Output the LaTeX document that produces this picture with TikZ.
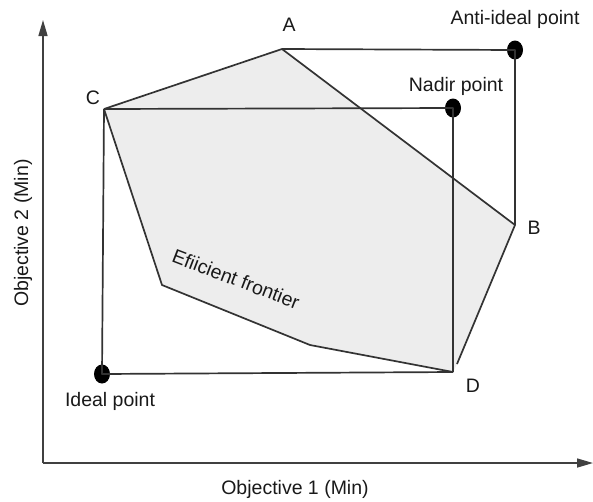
\documentclass[tikz,border=0pt]{standalone}
\usepackage{fontspec}
\setmainfont{Liberation Sans}
\usetikzlibrary{arrows.meta,shapes.geometric}
\begin{document}
\begin{tikzpicture}[x=1pt,y=-1pt,
  edge/.style={draw=black!80,line width=1.7pt,line join=round},
  axisline/.style={draw=black!75,line width=1.5pt,-{Triangle[length=16pt,width=9pt]}},
  lbl/.style={font=\fontsize{19.5}{22}\selectfont,inner sep=0pt,text=black!90},
  bigdot/.style={ellipse,fill=black,inner sep=0pt,minimum width=16pt,minimum height=19pt}]
\useasboundingbox (0,0) rectangle (593,501);
% polygon vertices
\coordinate (A) at (282,49);
\coordinate (C) at (104,109);
\coordinate (B) at (515,225);
\coordinate (B2) at (457,364);
\coordinate (D) at (453,372);
\coordinate (P1) at (310,345);
\coordinate (P2) at (162,285);
% axes
\coordinate (O) at (43,463);
\coordinate (ytop) at (43,20);
\coordinate (xend) at (593,463);
\fill[black!7] (C) -- (A) -- (B) -- (B2) -- (D) -- (P1) -- (P2) -- cycle;
\node[bigdot] (anti) at (515,50) {};
\node[bigdot] (nadir) at (453,108) {};
\node[bigdot] (ideal) at (102,374) {};
\draw[edge] (C) -- (A) -- (B) -- (B2);
\draw[edge] (D) -- (P1) -- (P2) -- (C);
\draw[edge] (A) -- (anti.center) -- (B);
\draw[edge] (C) -- (nadir.center) -- (D);
\draw[edge] (C) -- (ideal.center) -- (D);
\draw[axisline] (O) -- (ytop);
\draw[axisline] (O) -- (xend);
% labels
\node[lbl] (la) at (289,25) {A};
\node[lbl] (lc) at (93,98) {C};
\node[lbl] (lb) at (534,228) {B};
\node[lbl] (ld) at (473,386) {D};
\node[lbl] (lanti) at (515,19) {Anti-ideal point};
\node[lbl] (lnadir) at (456,86) {Nadir point};
\node[lbl] (lideal) at (110,401) {Ideal point};
\node[lbl,rotate=-21] (lef) at (236,279) {Efiicient frontier};
\node[lbl] (lx) at (295,489) {Objective 1 (Min)};
\node[lbl,rotate=90] (ly) at (23,233) {Objective 2 (Min)};
\end{tikzpicture}
\end{document}
